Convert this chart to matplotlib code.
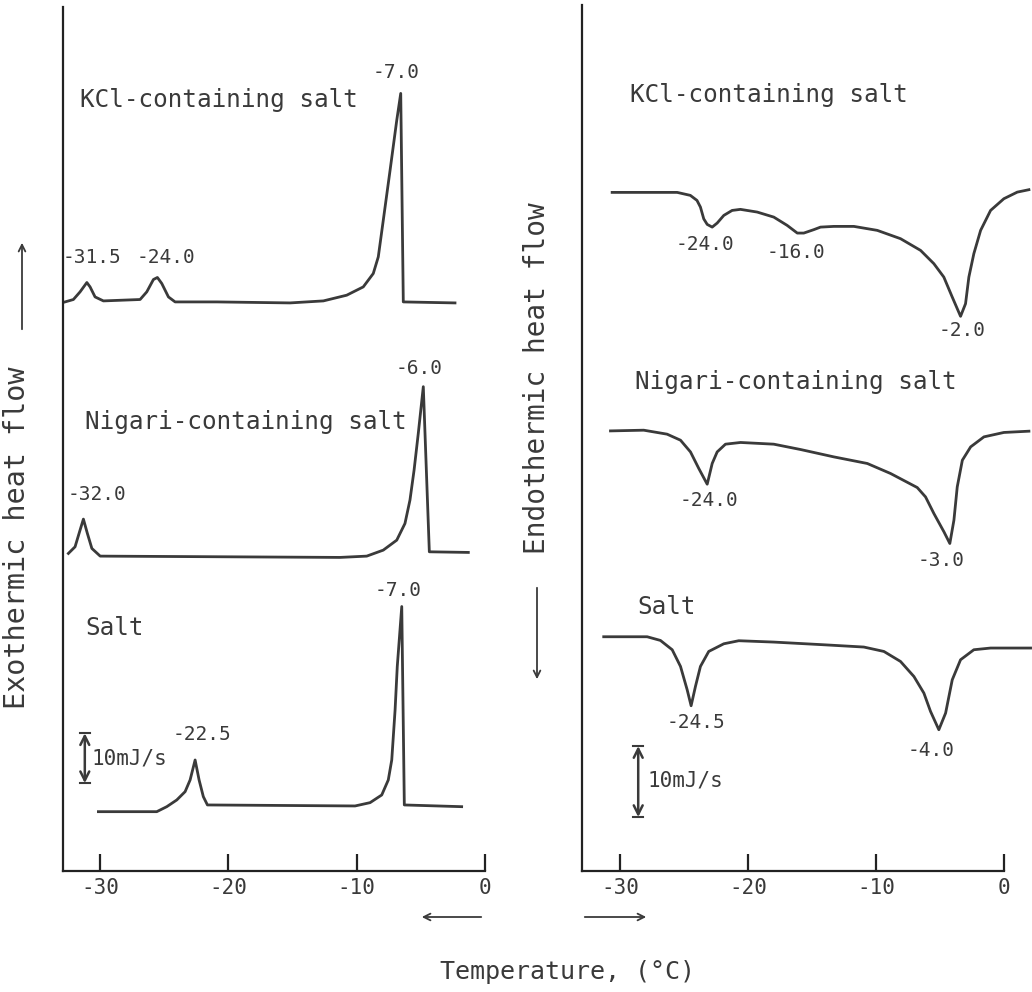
import matplotlib
matplotlib.use("Agg")
import matplotlib.pyplot as plt

plt.rcParams['font.family'] = ['DejaVu Sans Mono', 'DejaVu Sans']
plt.rcParams['axes.unicode_minus'] = False

W, H = 1032, 992

# temperatures (deg C) and heat flow (mJ/s, relative to each trace's start)
# --- cooling (exothermic) traces, left panel
kcl_cool_t = [-32.74, -32.09, -31.57, -31.04, -30.79, -30.4, -29.75, -26.89,
              -26.37, -25.85, -25.54, -25.2, -24.68, -24.16, -20.9, -15.2,
              -12.6, -10.78, -9.49, -8.71, -8.32, -7.93, -7.4, -6.88, -6.57,
              -6.37, -2.34]
kcl_cool_q = [0.06, 0.56, 2.15, 4.1, 3.19, 1.1, 0.27, 0.56,
              2.15, 4.73, 5.15, 3.9, 1.1, 0.06, 0.06, -0.15,
              0.27, 1.46, 3.19, 5.98, 9.44, 17.08, 27.5, 37.9, 43.5,
              0.06, -0.15]

nig_cool_t = [-32.48, -31.96, -31.57, -31.31, -31.0, -30.65, -30.0, -11.3,
              -9.22, -7.93, -6.88, -6.24, -5.85, -5.53, -5.2, -4.81, -4.34, -1.3]
nig_cool_q = [0.56, 1.94, 5.42, 7.71, 4.73, 1.6, 0, -0.27,
              0, 1.25, 3.33, 6.8, 11.67, 17.9, 25.6, 35.3, 0.9, 0.77]

salt_cool_t = [-30.14, -25.59, -24.81, -24.03, -23.38, -22.99, -22.6, -22.29,
               -21.96, -21.64, -10.13, -8.96, -8.05, -7.54, -7.27, -7.01,
               -6.84, -6.49, -6.29, -1.82]
salt_cool_q = [0.06, 0.06, 1.1, 2.5, 4.23, 6.67, 10.83, 6.67,
               3.19, 1.46, 1.25, 1.94, 3.54, 6.67, 10.83, 21.25,
               30.3, 42.8, 1.46, 1.1]

# --- heating (endothermic) traces, right panel
kcl_heat_t = [-30.64, -25.55, -24.52, -24.0, -23.73, -23.47, -23.2, -22.81,
              -22.42, -21.9, -21.25, -20.6, -19.29, -17.99, -16.94, -16.15,
              -15.64, -14.86, -14.33, -13.29, -11.72, -9.89, -8.07, -6.5,
              -5.46, -4.68, -4.02, -3.37, -2.98, -2.72, -2.33, -1.8, -1.02,
              0.02, 1.07, 1.98]
kcl_heat_q = [0, 0, -0.42, -1.13, -2.07, -3.73, -4.51, -4.89,
              -4.32, -3.24, -2.54, -2.39, -2.77, -3.48, -4.65, -5.73,
              -5.73, -5.25, -4.89, -4.79, -4.79, -5.35, -6.52, -8.17,
              -10.04, -11.93, -14.75, -17.46, -15.68, -11.93, -8.63, -5.35, -2.54,
              -0.89, 0.04, 0.38]

nig_heat_t = [-30.77, -28.17, -26.34, -25.29, -24.51, -23.86, -23.2, -22.81,
              -22.42, -21.77, -20.59, -17.99, -15.9, -13.29, -10.67, -8.85,
              -6.76, -6.11, -5.46, -4.67, -4.21, -3.89, -3.63, -3.23, -2.58,
              -1.54, 0.02, 1.98]
nig_heat_q = [-0.1, 0, -0.56, -1.41, -3.06, -5.39, -7.61, -4.69,
              -3.06, -1.97, -1.73, -1.97, -2.72, -3.76, -4.69, -6.1,
              -8.08, -9.4, -11.73, -14.32, -15.96, -12.68, -7.99, -4.23, -2.35,
              -0.94, -0.32, -0.14]

salt_heat_t = [-31.3, -27.9, -26.86, -25.94, -25.29, -24.77, -24.46, -24.12,
               -23.73, -23.08, -21.9, -20.73, -17.99, -14.07, -10.94, -9.37,
               -8.07, -7.02, -6.24, -5.72, -5.07, -4.54, -4.02, -3.37, -2.33,
               -1.02, 2.11]
salt_heat_q = [0, 0, -0.52, -1.83, -4.18, -7.46, -9.72, -7.0,
               -4.18, -2.07, -0.99, -0.56, -0.75, -1.13, -1.45, -2.07,
               -3.48, -5.6, -7.94, -10.52, -13.1, -10.75, -6.06, -3.24, -1.83,
               -1.59, -1.59]

tick_vals = [-30, -20, -10, 0]
tick_labels = ['-30', '-20', '-10', '0']

ink = '#3a3a3a'
lw = 2.0

# trace offsets (layout only)
left_off = {'kcl': 118.5, 'nig': 65.6, 'salt': 12.3}
right_off = {'kcl': 95.6, 'nig': 62.1, 'salt': 33.0}

fig = plt.figure(figsize=(W / 100, H / 100), dpi=100)


def px_axes(x0, y0, x1, y1):
    return fig.add_axes([x0 / W, 1 - y1 / H, (x1 - x0) / W, (y1 - y0) / H])


def ftext(x, y, s, size=16, **kw):
    fig.text(x / W, 1 - y / H, s, fontsize=size, color=ink, **kw)


def style(ax):
    ax.spines['top'].set_visible(False)
    ax.spines['right'].set_visible(False)
    for s in ['left', 'bottom']:
        ax.spines[s].set_linewidth(1.6)
        ax.spines[s].set_color('#222222')
    ax.set_yticks([])
    ax.set_xticks(tick_vals)
    ax.set_xticklabels(tick_labels, fontsize=15, color=ink)
    ax.tick_params(axis='x', direction='in', length=12, width=1.6,
                   color='#222222', pad=5)
    ax.patch.set_alpha(0)


axL = px_axes(63, 7, 485, 871)
axL.set_xlim(-32.9, 0)
axL.set_ylim(0, 180)
style(axL)
for t, q, k in [(kcl_cool_t, kcl_cool_q, 'kcl'), (nig_cool_t, nig_cool_q, 'nig'),
                (salt_cool_t, salt_cool_q, 'salt')]:
    axL.plot(t, [v + left_off[k] for v in q], color=ink, lw=lw,
             solid_joinstyle='round')
axL.annotate('', xy=(-31.2, 28.7), xytext=(-31.2, 18.3),
             arrowprops=dict(arrowstyle='<->', color=ink, lw=1.8,
                             mutation_scale=16, shrinkA=0, shrinkB=0))
axL.plot([-31.6, -30.8], [28.7, 28.7], color=ink, lw=1.5)
axL.plot([-31.6, -30.8], [18.3, 18.3], color=ink, lw=1.5)

axR = px_axes(582, 5, 1033, 871)
axR.set_xlim(-33.0, 2.3)
axR.set_ylim(0, 122)
style(axR)
axR.spines['bottom'].set_bounds(-33.0, 0)
for t, q, k in [(kcl_heat_t, kcl_heat_q, 'kcl'), (nig_heat_t, nig_heat_q, 'nig'),
                (salt_heat_t, salt_heat_q, 'salt')]:
    axR.plot(t, [v + right_off[k] for v in q], color=ink, lw=lw,
             solid_joinstyle='round', clip_on=False)
axR.annotate('', xy=(-28.6, 17.6), xytext=(-28.6, 7.6),
             arrowprops=dict(arrowstyle='<->', color=ink, lw=1.8,
                             mutation_scale=16, shrinkA=0, shrinkB=0))
axR.plot([-29.0, -28.2], [17.6, 17.6], color=ink, lw=1.5)
axR.plot([-29.0, -28.2], [7.6, 7.6], color=ink, lw=1.5)

# trace names and peak temperatures (left)
ftext(80, 100, 'KCl-containing salt', 17.5, va='center')
ftext(396, 73, '-7.0', 14, ha='center', va='center')
ftext(92, 258, '-31.5', 14, ha='center', va='center')
ftext(166, 258, '-24.0', 14, ha='center', va='center')
ftext(85, 422, 'Nigari-containing salt', 17.5, va='center')
ftext(419, 368, '-6.0', 14, ha='center', va='center')
ftext(97, 495, '-32.0', 14, ha='center', va='center')
ftext(85, 628, 'Salt', 17.5, va='center')
ftext(398, 590, '-7.0', 14, ha='center', va='center')
ftext(202, 735, '-22.5', 14, ha='center', va='center')
ftext(92, 758, '10mJ/s', 15, va='center')

# right
ftext(630, 95, 'KCl-containing salt', 17.5, va='center')
ftext(705, 245, '-24.0', 14, ha='center', va='center')
ftext(796, 252, '-16.0', 14, ha='center', va='center')
ftext(962, 330, '-2.0', 14, ha='center', va='center')
ftext(635, 382, 'Nigari-containing salt', 17.5, va='center')
ftext(709, 500, '-24.0', 14, ha='center', va='center')
ftext(941, 560, '-3.0', 14, ha='center', va='center')
ftext(637, 607, 'Salt', 17.5, va='center')
ftext(696, 723, '-24.5', 14, ha='center', va='center')
ftext(931, 750, '-4.0', 14, ha='center', va='center')
ftext(648, 780, '10mJ/s', 15, va='center')

# axis titles
ftext(17, 538, 'Exothermic heat flow', 20.5, rotation=90, ha='center', va='center')
ftext(537, 378, 'Endothermic heat flow', 20, rotation=90, ha='center', va='center')
ftext(567, 972, 'Temperature, (\u00b0C)', 18, ha='center', va='center')


def farrow(x0, y0, x1, y1):
    fig.add_artist(matplotlib.patches.FancyArrowPatch(
        (x0 / W, 1 - y0 / H), (x1 / W, 1 - y1 / H), transform=fig.transFigure,
        arrowstyle='->', mutation_scale=12, lw=1.3, color=ink))


farrow(22, 332, 22, 240)
farrow(537, 585, 537, 682)
farrow(484, 917, 419, 917)
farrow(582, 917, 649, 917)

fig.savefig('out.png', dpi=100)
